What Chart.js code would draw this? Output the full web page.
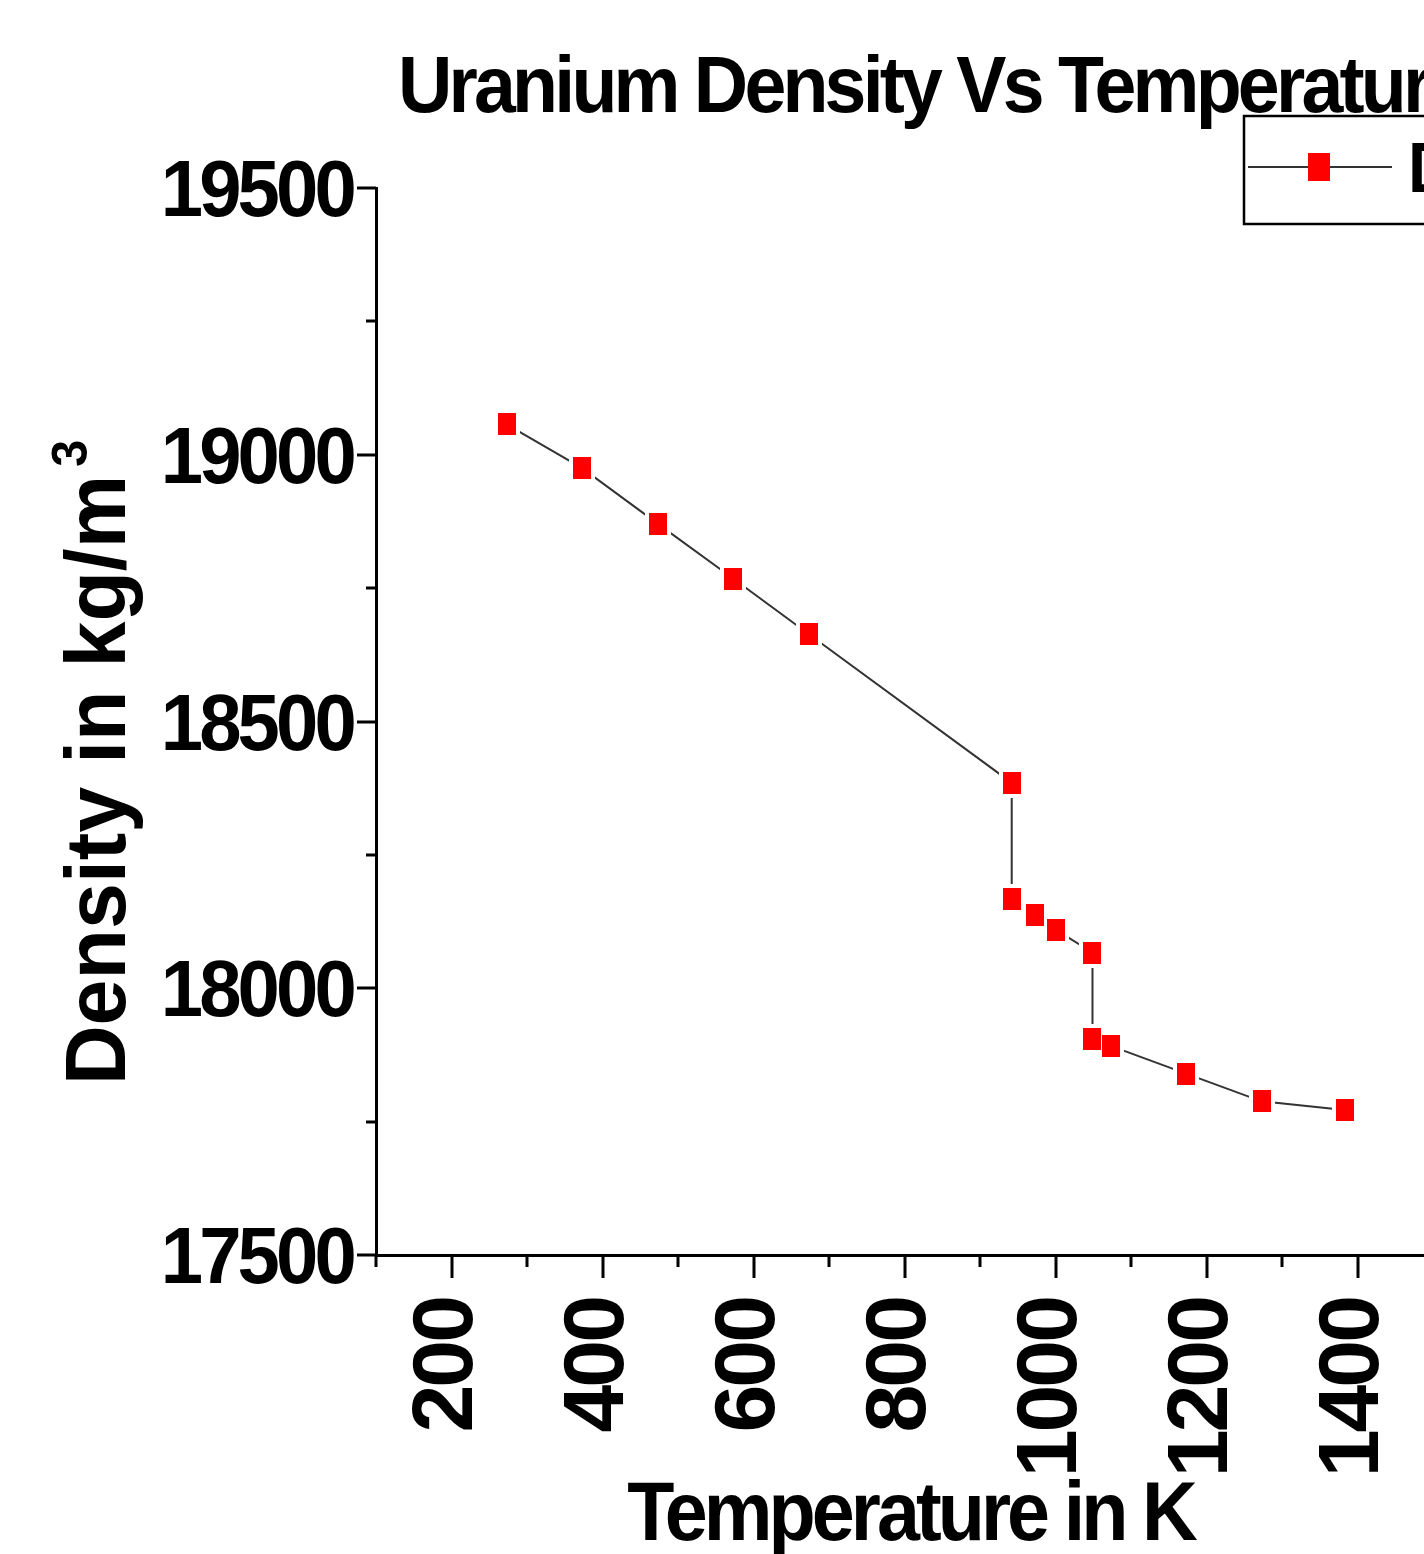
<!DOCTYPE html>
<html>
<head>
<meta charset="utf-8">
<title>Uranium Density Vs Temperature</title>
<script src="https://cdn.jsdelivr.net/npm/chart.js@4.4.1/dist/chart.umd.min.js"></script>
<style>
  html, body { margin: 0; padding: 0; background: #fff; overflow: hidden; }
  canvas { display: block; }
</style>
</head>
<body>
<canvas id="densityChart" width="1700" height="1554"></canvas>
<script>
// data
const temperatures = [273, 373, 473, 573, 673, 942, 942, 973, 1000, 1049, 1049, 1073, 1173, 1273, 1383];
const densities = [19057, 18975, 18871, 18768, 18664, 18385, 18168, 18138, 18110, 18067, 17904, 17892, 17840, 17788, 17772];

const xMajorTicks = [200, 400, 600, 800, 1000, 1200, 1400];
const xMinorTicks = [100, 300, 500, 700, 900, 1100, 1300, 1500];
const yMajorTicks = [17500, 18000, 18500, 19000, 19500];
const yMinorTicks = [17750, 18250, 18750, 19250];

const chartTitle = 'Uranium Density Vs Temperature';
const xTitle = 'Temperature in K';
const yTitle = 'Density in kg/m';
const yTitleSup = '3';
const seriesName = 'Density';

const FONT = '"Liberation Sans", Arial, sans-serif';
const MARKER_RED = '#ff0000';

function rectImage(w, h, color) {
    const c = document.createElement('canvas');
    c.width = w;
    c.height = h;
    const g = c.getContext('2d');
    g.fillStyle = color;
    g.fillRect(0, 0, w, h);
    return c;
}

// Origin style: tight bold text
function squashText(ctx, text, x, y, size, sx, spacing, align, rotate) {
    ctx.save();
    ctx.translate(x, y);
    if (rotate) ctx.rotate(rotate);
    ctx.scale(sx, 1);
    ctx.font = 'bold ' + size + 'px ' + FONT;
    ctx.letterSpacing = spacing + 'px';
    ctx.textAlign = align;
    ctx.textBaseline = 'alphabetic';
    ctx.fillStyle = '#000';
    ctx.fillText(text, 0, 0);
    const w = ctx.measureText(text).width;
    ctx.restore();
    return w * sx;
}

const originDecor = {
    id: 'originDecor',
    afterDraw(chart) {
        const ctx = chart.ctx;
        const xs = chart.scales.x;
        const ys = chart.scales.y;
        const area = chart.chartArea;

        ctx.save();
        ctx.strokeStyle = '#000';
        ctx.lineWidth = 3;
        ctx.lineCap = 'butt';
        ctx.beginPath();
        xMajorTicks.forEach(v => {
            const px = Math.round(xs.getPixelForValue(v));
            ctx.moveTo(px, area.bottom);
            ctx.lineTo(px, area.bottom + 23);
        });
        xMinorTicks.forEach(v => {
            const px = Math.round(xs.getPixelForValue(v));
            ctx.moveTo(px, area.bottom);
            ctx.lineTo(px, area.bottom + 12);
        });
        yMajorTicks.forEach(v => {
            const py = Math.round(ys.getPixelForValue(v));
            ctx.moveTo(area.left - 19, py);
            ctx.lineTo(area.left, py);
        });
        yMinorTicks.forEach(v => {
            const py = Math.round(ys.getPixelForValue(v));
            ctx.moveTo(area.left - 10, py);
            ctx.lineTo(area.left, py);
        });
        ctx.stroke();
        ctx.restore();

        // tick labels
        yMajorTicks.forEach(v => {
            squashText(ctx, String(v), 353, ys.getPixelForValue(v) + 28, 80, 0.95, -4, 'right');
        });
        xMajorTicks.forEach(v => {
            squashText(ctx, String(v), xs.getPixelForValue(v) + 20, 1298, 86, 1, -3, 'right', -Math.PI / 2);
        });

        // axis titles
        squashText(ctx, xTitle, (area.left + area.right) / 2 + 6, 1540, 84, 0.92, -4.3, 'center');
        const w = squashText(ctx, yTitle, 125, 1085, 86, 0.96, 0, 'left', -Math.PI / 2);
        squashText(ctx, yTitleSup, 87, 1085 - w - 8, 50, 0.97, 0, 'left', -Math.PI / 2);

        // chart title
        squashText(ctx, chartTitle, 398, 112, 80, 0.94, -4, 'left');

        // legend
        ctx.save();
        ctx.fillStyle = '#fff';
        ctx.fillRect(1244, 116, 440, 108);
        ctx.strokeStyle = '#000';
        ctx.lineWidth = 2.5;
        ctx.strokeRect(1244, 116, 440, 108);
        ctx.strokeStyle = '#333';
        ctx.lineWidth = 2;
        ctx.beginPath();
        ctx.moveTo(1248, 167);
        ctx.lineTo(1392, 167);
        ctx.stroke();
        ctx.fillStyle = MARKER_RED;
        ctx.fillRect(1308, 153, 22, 28);
        ctx.restore();
        squashText(ctx, seriesName, 1408, 192, 71, 0.92, -3, 'left');
    }
};

const points = temperatures.map((t, i) => ({ x: t, y: densities[i] }));
const haloImg = rectImage(26, 30, '#ffffff');
const markerImg = rectImage(18, 22, MARKER_RED);

new Chart(document.getElementById('densityChart'), {
    type: 'scatter',
    data: {
        datasets: [
            {
                label: seriesName,
                data: points,
                showLine: false,
                pointStyle: markerImg,
                pointRadius: 10,
                order: 1
            },
            {
                label: seriesName + ' line',
                data: points,
                showLine: true,
                borderColor: '#333333',
                borderWidth: 2,
                tension: 0,
                pointStyle: haloImg,
                pointRadius: 10,
                order: 2
            }
        ]
    },
    options: {
        responsive: false,
        animation: false,
        events: [],
        layout: { padding: { left: 0, top: 188, right: 267, bottom: 0 } },
        plugins: {
            legend: { display: false },
            title: { display: false },
            tooltip: { enabled: false }
        },
        scales: {
            x: {
                type: 'linear',
                min: 100,
                max: 1500,
                ticks: { display: false },
                grid: { display: false },
                border: { display: true, color: '#000', width: 3 },
                afterFit: s => { s.height = 299; }
            },
            y: {
                type: 'linear',
                min: 17500,
                max: 19500,
                ticks: { display: false },
                grid: { display: false },
                border: { display: true, color: '#000', width: 3 },
                afterFit: s => { s.width = 376; }
            }
        }
    },
    plugins: [originDecor]
});
</script>
</body>
</html>
